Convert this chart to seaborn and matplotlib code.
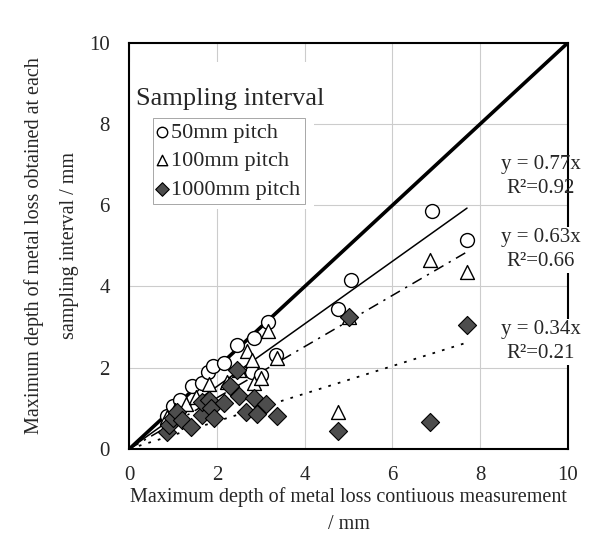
import numpy as np
import pandas as pd
import seaborn as sns
import matplotlib.pyplot as plt
from matplotlib.patches import Rectangle

# -------------------------------
# Data
# -------------------------------
x_50 = [0.85, 1.0, 1.15, 1.42, 1.65, 1.8, 1.9, 2.15, 2.45, 2.8, 2.85, 3.0, 3.15, 3.35, 4.75, 5.05, 6.9, 7.7]
y_50 = [0.8, 1.05, 1.2, 1.55, 1.62, 1.9, 2.05, 2.12, 2.55, 1.9, 2.72, 1.82, 3.12, 2.3, 3.45, 4.15, 5.85, 5.15]

x_100 = [0.85, 1.05, 1.3, 1.53, 1.82, 2.22, 2.5, 2.68, 2.8, 2.85, 3.0, 3.15, 3.36, 4.75, 5.0, 6.85, 7.7]
y_100 = [0.78, 0.95, 1.1, 1.28, 1.6, 1.65, 1.95, 2.42, 2.2, 1.62, 1.75, 2.9, 2.25, 0.92, 3.25, 4.65, 4.35]

x_1000 = [0.85, 0.9, 1.0, 1.08, 1.2, 1.4, 1.65, 1.65, 1.82, 1.85, 1.92, 2.15, 2.3, 2.45, 2.5,
          2.65, 2.84, 2.91, 3.12, 3.36, 4.75, 5.0, 6.85, 7.7]
y_1000 = [0.42, 0.6, 0.75, 0.9, 0.7, 0.55, 0.84, 1.15, 1.2, 1.0, 0.76, 1.13, 1.55, 1.95, 1.3,
          0.92, 1.25, 0.85, 1.1, 0.82, 0.45, 3.25, 0.65, 3.05]

labels = ["50mm pitch", "100mm pitch", "1000mm pitch"]
slopes = [0.77, 0.63, 0.34]
r2 = [0.92, 0.66, 0.21]
fit_end = 7.7
ticks = [0, 2, 4, 6, 8, 10]

# -------------------------------
# Style
# -------------------------------
sns.set_style("whitegrid")
plt.rcParams['font.family'] = ['Liberation Serif', 'DejaVu Serif']
plt.rcParams['grid.color'] = '#cccccc'
plt.rcParams['grid.linewidth'] = 0.8

fig = plt.figure(figsize=(5.99, 5.35), dpi=100)
ax = fig.add_axes([0.216, 0.161, 0.732, 0.759])

# white block behind title + legend (hides grid like the original)
ax.add_patch(Rectangle((0, 5.9), 4.21, 3.63, facecolor='white', edgecolor='none', zorder=1.5))

# reference and fit lines
ax.plot([0, 10], [0, 10], color='black', lw=2.6, zorder=2)
xf = np.array([0, fit_end])
ax.plot(xf, slopes[0] * xf, color='black', lw=1.1, zorder=2)
ax.plot(xf, slopes[1] * xf, color='black', lw=1.1, ls=(0, (7, 4, 1.5, 4)), zorder=2)
ax.plot(xf, slopes[2] * xf, color='black', lw=1.3, ls=(0, (1.5, 4)), zorder=2)

# scatter groups
sns.scatterplot(x=x_50, y=y_50, marker='o', s=100, color='white', edgecolor='black',
                linewidth=1.0, label=labels[0], ax=ax, zorder=3)
sns.scatterplot(x=x_100, y=y_100, marker='^', s=100, color='white', edgecolor='black',
                linewidth=1.0, label=labels[1], ax=ax, zorder=3)
sns.scatterplot(x=x_1000, y=y_1000, marker='D', s=85, color='#4d4d4d', edgecolor='black',
                linewidth=0.8, label=labels[2], ax=ax, zorder=4)

# axes
ax.set_xlim(0, 10)
ax.set_ylim(0, 10)
ax.set_xticks(ticks)
ax.set_yticks(ticks)
ax.tick_params(axis='x', labelsize=15, pad=12, length=0)
ax.tick_params(axis='y', labelsize=15, pad=14, length=0)
for sp in ax.spines.values():
    sp.set_color('black')
    sp.set_linewidth(1.5)
    sp.set_zorder(5)
ax.set_xlabel("Maximum depth of metal loss contiuous measurement\n/ mm", fontsize=14.5,
              labelpad=2, linespacing=1.55)
ax.set_ylabel("Maximum depth of metal loss obtained at each\nsampling interval / mm", fontsize=14.5,
              labelpad=7, linespacing=2.15)

# legend
ax.text(0.14, 8.62, "Sampling interval", fontsize=19, va='center', ha='left', zorder=6)
leg = ax.legend(loc='upper left', bbox_to_anchor=(0.055, 0.815), borderaxespad=0,
                fontsize=16, frameon=True, fancybox=False, markerscale=0.75,
                handletextpad=0.2, handlelength=0.4, labelspacing=0.35, borderpad=0.2)
leg.get_frame().set_edgecolor('#999999')
leg.get_frame().set_linewidth(0.6)
leg.get_frame().set_facecolor('white')
leg.get_frame().set_alpha(1)

# fit annotations
ann_y = [6.7, 4.9, 2.64]
for k in range(3):
    bbox = None if k == 0 else dict(facecolor='white', edgecolor='none', pad=1)
    ax.text(9.38, ann_y[k], f"y = {slopes[k]:.2f}x\nR²={r2[k]:.2f}", fontsize=15,
            ha='center', va='center', linespacing=1.35, bbox=bbox, clip_on=False, zorder=6)

fig.savefig("out.png", dpi=100)
